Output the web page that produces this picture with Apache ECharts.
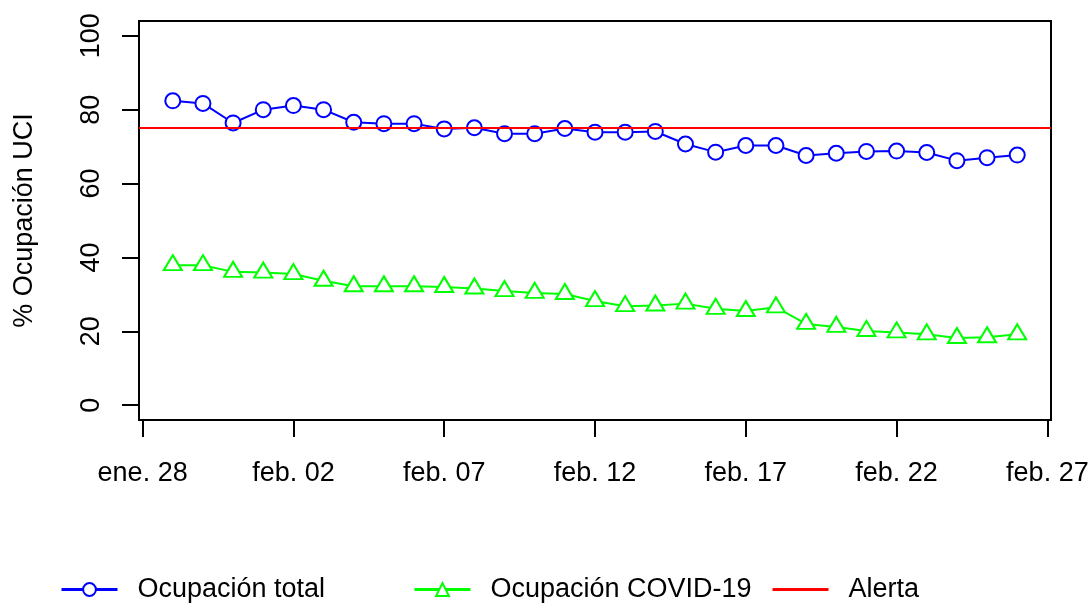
<!DOCTYPE html>
<html>

<head>
  <meta charset="utf-8">
  <title>Ocupación UCI</title>
  <script src="https://cdn.jsdelivr.net/npm/echarts@6.0.0/dist/echarts.min.js" charset="utf-8"></script>
  <style media="screen">
    html, body { margin: 0; padding: 0; background: #fff; }
  </style>
</head>

<body>
  <div id="main" style="width:1092px;height:604px;"></div>

  <script type="text/javascript">
    // fechas (mes-dia), 2021
    var fechas = ['01-29', '01-30', '01-31', '02-01', '02-02', '02-03', '02-04', '02-05', '02-06', '02-07',
      '02-08', '02-09', '02-10', '02-11', '02-12', '02-13', '02-14', '02-15', '02-16', '02-17',
      '02-18', '02-19', '02-20', '02-21', '02-22', '02-23', '02-24', '02-25', '02-26'];

    var ocupTotal = [82.4, 81.7, 76.4, 80.0, 81.1, 80.0, 76.6, 76.2, 76.2, 74.8,
      75.1, 73.5, 73.5, 74.9, 73.9, 73.9, 74.1, 70.7, 68.5, 70.3,
      70.3, 67.6, 68.2, 68.7, 68.8, 68.4, 66.2, 67.0, 67.7];

    var ocupCovid = [37.9, 37.9, 36.1, 35.9, 35.5, 33.7, 32.2, 32.2, 32.2, 32.0,
      31.6, 30.9, 30.4, 30.1, 28.2, 26.8, 27.0, 27.5, 26.1, 25.5,
      26.5, 22.0, 21.2, 20.1, 19.7, 19.2, 18.2, 18.4, 19.2];

    var alerta = 75;

    var ticksX = [0, 5, 10, 15, 20, 25, 30];
    var labelsX = ['ene. 28', 'feb. 02', 'feb. 07', 'feb. 12', 'feb. 17', 'feb. 22', 'feb. 27'];
    var ticksY = [0, 20, 40, 60, 80, 100];

    // dias desde el 28 de enero
    function dia(f) {
      return (Date.UTC(2021, +f.slice(0, 2) - 1, +f.slice(3)) - Date.UTC(2021, 0, 28)) / 864e5;
    }

    var serieTotal = fechas.map((f, i) => [dia(f), ocupTotal[i]]);
    var serieCovid = fechas.map((f, i) => [dia(f), ocupCovid[i]]);

    var font = 'Liberation Sans, Arial, sans-serif';
    var fs = 27;
    var myChart = echarts.init(document.getElementById('main'));

    var legendBase = {
      top: 576,
      padding: 0,
      itemWidth: 56,
      itemHeight: 16,
      lineStyle: { width: 3 },
      textStyle: { fontFamily: font, fontSize: fs, color: '#000', padding: [0, 0, 0, 15] }
    };

    var option = {
      animation: false,
      grid: {
        left: 139, right: 41, top: 21, bottom: 184,
        show: true, borderColor: '#000', borderWidth: 2, backgroundColor: 'transparent'
      },
      legend: [
        Object.assign({ left: 60, data: ['Ocupación total'] }, legendBase),
        Object.assign({ left: 413, data: ['Ocupación COVID-19'] }, legendBase),
        Object.assign({ left: 771, data: ['Alerta'], itemStyle: { opacity: 0 } }, legendBase)
      ],
      xAxis: {
        type: 'value',
        min: -0.12,
        max: 30.12,
        splitLine: { show: false },
        axisLine: { show: false, onZero: false },
        axisTick: { show: true, length: 17, customValues: ticksX, lineStyle: { color: '#000', width: 2 } },
        axisLabel: {
          customValues: ticksX,
          margin: 40,
          fontFamily: font, fontSize: fs, color: '#000',
          formatter: function (v) { return labelsX[ticksX.indexOf(v)]; }
        }
      },
      yAxis: {
        type: 'value',
        min: -4,
        max: 104,
        name: '% Ocupación UCI',
        nameLocation: 'middle',
        nameGap: 101,
        nameTextStyle: { fontFamily: font, fontSize: fs, color: '#000' },
        splitLine: { show: false },
        axisLine: { show: false, onZero: false },
        axisTick: { show: true, length: 17, customValues: ticksY, lineStyle: { color: '#000', width: 2 } },
        axisLabel: {
          customValues: ticksY,
          rotate: 90,
          margin: 34,
          fontFamily: font, fontSize: fs, color: '#000'
        }
      },
      series: [{
        name: 'Ocupación total',
        type: 'line',
        data: serieTotal,
        color: '#0000FF',
        symbol: 'emptyCircle',
        symbolSize: 15,
        lineStyle: { width: 2 },
        itemStyle: { borderWidth: 2 }
      }, {
        name: 'Ocupación COVID-19',
        type: 'line',
        data: serieCovid,
        color: '#00FF00',
        symbol: 'emptyTriangle',
        symbolSize: [18, 15],
        symbolOffset: [0, -2.5],
        lineStyle: { width: 2 },
        itemStyle: { borderWidth: 2 }
      }, {
        name: 'Alerta',
        type: 'line',
        data: [],
        color: '#FF0000',
        symbol: 'none',
        lineStyle: { width: 2 },
        markLine: {
          silent: true,
          symbol: 'none',
          label: { show: false },
          lineStyle: { color: '#FF0000', width: 2, type: 'solid' },
          data: [{ yAxis: alerta }]
        }
      }]
    };
    myChart.setOption(option);
  </script>
</body>

</html>
